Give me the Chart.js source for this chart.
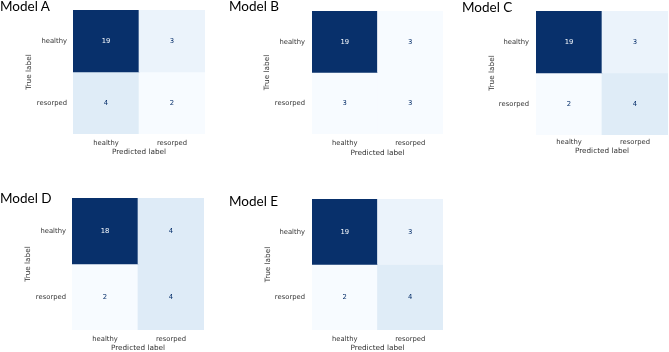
<!DOCTYPE html>
<html>
<head>
<meta charset="utf-8">
<script src="https://cdn.jsdelivr.net/npm/chart.js@4.4.0/dist/chart.umd.min.js"></script>
<style>
  html, body { margin: 0; padding: 0; background: #fff; width: 669px; height: 352px; overflow: hidden; }
  canvas { position: absolute; }
  .model-title { position: absolute; font-family: Lato, "Open Sans", sans-serif; font-size: 13.5px; line-height: 1; color: #000; white-space: nowrap; }
</style>
</head>
<body>
<script>
// confusion matrices, rows = true label, cols = predicted label
const predLabels = ["healthy", "resorped"];
const trueLabels = ["healthy", "resorped"];
const modelNames = ["Model A", "Model B", "Model C", "Model D", "Model E"];
const modelA = [[19, 3], [4, 2]];
const modelB = [[19, 3], [3, 3]];
const modelC = [[19, 3], [2, 4]];
const modelD = [[18, 4], [2, 4]];
const modelE = [[19, 3], [2, 4]];
const matrices = [modelA, modelB, modelC, modelD, modelE];

// where each panel sits on the page (pixels)
const panels = [
    { frame: { x: 0, y: 0, w: 220, h: 172 }, area: { l: 73, t: 2, r: 205, b: 134 }, yTitleX: 29, tickRight: 67, xTickY: 143, xTitleY: 152, titleX: 0, titleBase: 12 },
    { frame: { x: 220, y: 0, w: 226, h: 172 }, area: { l: 312, t: 3, r: 443, b: 134 }, yTitleX: 267, tickRight: 305, xTickY: 143, xTitleY: 153, titleX: 229, titleBase: 12 },
    { frame: { x: 440, y: 0, w: 229, h: 172 }, area: { l: 536, t: 0, r: 668, b: 135 }, yTitleX: 492, tickRight: 529, xTickY: 142, xTitleY: 151, titleX: 462, titleBase: 13 },
    { frame: { x: 0, y: 176, w: 220, h: 176 }, area: { l: 72, t: 198, r: 204, b: 330 }, yTitleX: 28, tickRight: 66, xTickY: 339, xTitleY: 348, titleX: 0, titleBase: 204 },
    { frame: { x: 220, y: 176, w: 226, h: 176 }, area: { l: 312, t: 199, r: 443, b: 330 }, yTitleX: 268, tickRight: 305, xTickY: 339, xTitleY: 348, titleX: 229, titleBase: 207 },
];

const tickSize = 6.8;
const labelSize = 7.3;
const axisFont = "'DejaVu Sans', sans-serif";

// matplotlib "Blues"
const bluesStops = ["#f7fbff", "#deebf7", "#c6dbef", "#9ecae1", "#6baed6", "#4292c6", "#2171b5", "#08519c", "#08306b"];
function hexToRgb(h) {
    return [1, 3, 5].map((i) => parseInt(h.slice(i, i + 2), 16));
}
function blues(t) {
    const pos = Math.max(0, Math.min(1, t)) * (bluesStops.length - 1);
    const i = Math.min(Math.floor(pos), bluesStops.length - 2);
    const f = pos - i;
    const a = hexToRgb(bluesStops[i]);
    const b = hexToRgb(bluesStops[i + 1]);
    const c = a.map((v, k) => Math.round(v + (b[k] - v) * f));
    return `rgb(${c[0]}, ${c[1]}, ${c[2]})`;
}

const cellText = {
    id: "cellText",
    afterDatasetsDraw(chart) {
        const { ctx } = chart;
        const thresh = chart.options.plugins.cellText.thresh;
        ctx.save();
        ctx.font = `${tickSize}px ${axisFont}`;
        ctx.textAlign = "center";
        ctx.textBaseline = "middle";
        chart.data.datasets.forEach((ds, di) => {
            chart.getDatasetMeta(di).data.forEach((bar, j) => {
                const v = ds.counts[j];
                ctx.fillStyle = v < thresh ? blues(1) : blues(0);
                ctx.fillText(String(v), bar.x, (bar.y + bar.base) / 2);
            });
        });
        ctx.restore();
    },
};

function makeChart(matrix, p, name) {
    const { frame, area } = p;
    const canvas = document.createElement("canvas");
    canvas.width = frame.w;
    canvas.height = frame.h;
    canvas.style.left = frame.x + "px";
    canvas.style.top = frame.y + "px";
    canvas.style.width = frame.w + "px";
    canvas.style.height = frame.h + "px";
    document.body.appendChild(canvas);

    const title = document.createElement("div");
    title.className = "model-title";
    title.textContent = name;
    title.style.left = p.titleX + "px";
    title.style.top = (p.titleBase - 0.887 * 13.5) + "px";
    document.body.appendChild(title);

    const flat = matrix.flat();
    const lo = Math.min(...flat);
    const hi = Math.max(...flat);
    const thresh = (lo + hi) / 2;

    const lhTick = tickSize * 1.2;
    const lhLabel = labelSize * 1.2;
    const yw = area.l - frame.x;
    const xh = frame.y + frame.h - area.b;

    const datasets = matrix.map((row, i) => ({
        label: trueLabels[i],
        data: row.map(() => [i, i + 1]),
        counts: row,
        backgroundColor: row.map((v) => blues((v - lo) / (hi - lo))),
        borderWidth: 0,
        barPercentage: 1,
        categoryPercentage: 1,
        grouped: false,
    }));

    return new Chart(canvas, {
        type: "bar",
        data: { labels: predLabels, datasets },
        plugins: [cellText],
        options: {
            responsive: false,
            animation: false,
            devicePixelRatio: 1,
            layout: {
                padding: { left: 0, top: area.t - frame.y, right: frame.x + frame.w - area.r, bottom: 0 },
            },
            plugins: {
                legend: { display: false },
                tooltip: { enabled: false },
                cellText: { thresh },
            },
            scales: {
                x: {
                    type: "category",
                    grid: { display: false, drawTicks: false },
                    border: { display: false },
                    ticks: {
                        font: { family: axisFont, size: tickSize },
                        color: "#333",
                        padding: p.xTickY - area.b - lhTick / 2,
                        maxRotation: 0,
                    },
                    title: {
                        display: true,
                        text: "Predicted label",
                        font: { family: axisFont, size: labelSize },
                        color: "#333",
                        padding: { top: 0, bottom: frame.y + frame.h - lhLabel / 2 - p.xTitleY },
                    },
                    afterFit(s) { s.height = xh; },
                },
                y: {
                    type: "linear",
                    min: 0,
                    max: 2,
                    reverse: true,
                    grid: { display: false, drawTicks: false },
                    border: { display: false },
                    afterBuildTicks(s) { s.ticks = [{ value: 0.5 }, { value: 1.5 }]; },
                    ticks: {
                        font: { family: axisFont, size: tickSize },
                        color: "#333",
                        padding: area.l - p.tickRight,
                        callback: (v, idx) => trueLabels[idx],
                    },
                    title: {
                        display: true,
                        text: "True label",
                        font: { family: axisFont, size: labelSize },
                        color: "#333",
                        padding: { top: p.yTitleX - frame.x - lhLabel / 2, bottom: 0 },
                    },
                    afterFit(s) { s.width = yw; },
                },
            },
        },
    });
}

matrices.forEach((m, i) => makeChart(m, panels[i], modelNames[i]));
</script>
</body>
</html>
